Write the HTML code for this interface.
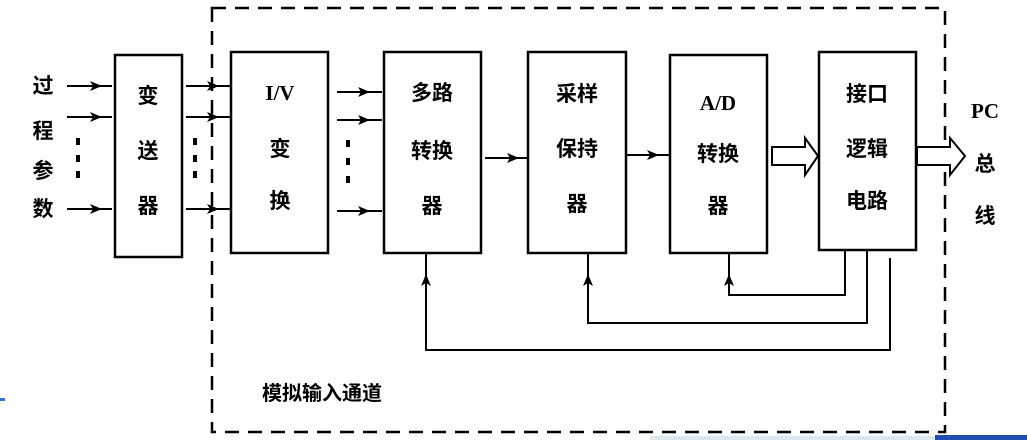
<!DOCTYPE html>
<html><head><meta charset="utf-8"><style>
html,body{margin:0;padding:0;background:#fff;}
svg{display:block;}
text{font-family:"Noto Sans CJK SC","WenQuanYi Zen Hei",sans-serif;font-size:21px;font-weight:bold;fill:#000;text-anchor:middle;}
.l{font-family:"Liberation Serif",serif;}
</style></head><body>
<svg width="1027" height="440" viewBox="0 0 1027 440" xmlns="http://www.w3.org/2000/svg">
<defs>
<g id="ah"><path d="M-8,-5 L4,0 L-8,5 L-5,0 Z" fill="#000"/></g>
</defs>
<rect x="0" y="0" width="1027" height="440" fill="#fff"/>
<!-- dashed box -->
<rect x="212" y="8" width="733" height="424" fill="none" stroke="#000" stroke-width="2.5" stroke-dasharray="14,9"/>
<!-- boxes -->
<g fill="none" stroke="#000" stroke-width="2.5">
<rect x="115" y="55" width="67" height="202"/>
<rect x="231" y="52" width="97" height="201"/>
<rect x="384" y="52" width="97" height="201"/>
<rect x="528" y="52" width="98" height="201"/>
<rect x="670" y="55" width="97" height="198"/>
<rect x="819" y="52" width="97" height="198"/>
</g>
<!-- input arrows -->
<g stroke="#000" stroke-width="2">
<line x1="67" y1="86" x2="112" y2="86"/><line x1="67" y1="117" x2="112" y2="117"/><line x1="67" y1="209" x2="112" y2="209"/>
<line x1="186" y1="86" x2="230" y2="86"/><line x1="186" y1="117" x2="230" y2="117"/><line x1="186" y1="209" x2="230" y2="209"/>
<line x1="337" y1="92" x2="382" y2="92"/><line x1="337" y1="120" x2="382" y2="120"/><line x1="337" y1="211" x2="382" y2="211"/>
<line x1="485" y1="158" x2="527" y2="158"/>
<line x1="626" y1="155" x2="669" y2="155"/>
</g>
<use href="#ah" x="98" y="86"/><use href="#ah" x="98" y="117"/><use href="#ah" x="98" y="209"/>
<use href="#ah" x="215" y="86"/><use href="#ah" x="215" y="117"/><use href="#ah" x="215" y="209"/>
<use href="#ah" x="366" y="92"/><use href="#ah" x="366" y="120"/><use href="#ah" x="366" y="211"/>
<use href="#ah" x="515" y="158"/><use href="#ah" x="655" y="155"/>
<!-- dots -->
<g fill="#000">
<rect x="76" y="138" width="4" height="7"/><rect x="76" y="155" width="4" height="7"/><rect x="76" y="171" width="4" height="7"/>
<rect x="193" y="138" width="4" height="7"/><rect x="193" y="155" width="4" height="7"/><rect x="193" y="171" width="4" height="7"/>
<rect x="346" y="140" width="4" height="7"/><rect x="346" y="158" width="4" height="7"/><rect x="346" y="176" width="4" height="7"/>
</g>
<!-- hollow arrows -->
<path d="M772,147 L805,147 L805,138 L818,156 L805,175 L805,165 L772,165 Z" fill="#fff" stroke="#000" stroke-width="2"/>
<path d="M917,147 L950,147 L950,138 L965,156 L950,175 L950,165 L917,165 Z" fill="#fff" stroke="#000" stroke-width="2"/>
<!-- feedback -->
<g fill="none" stroke="#000" stroke-width="2">
<polyline points="426,254 426,350 890,350 890,258"/>
<polyline points="588,254 588,323 867,323 867,250"/>
<polyline points="729,254 729,295 845,295 845,250"/>
</g>
<g transform="rotate(-90)">
<use href="#ah" x="-278" y="426"/><use href="#ah" x="-278" y="588"/><use href="#ah" x="-278" y="729"/>
</g>
<!-- texts -->
<text x="43" y="93">过</text><text x="43" y="138">程</text><text x="43" y="178">参</text><text x="43" y="216">数</text>
<text x="148" y="103">变</text><text x="148" y="158">送</text><text x="148" y="213">器</text>
<text x="280" y="100" class="l">I/V</text><text x="280" y="156">变</text><text x="280" y="208">换</text>
<text x="432" y="100">多路</text><text x="432" y="158">转换</text><text x="432" y="213">器</text>
<text x="577" y="101">采样</text><text x="577" y="156">保持</text><text x="577" y="211">器</text>
<text x="718" y="110" class="l">A/D</text><text x="718" y="161">转换</text><text x="718" y="213">器</text>
<text x="867" y="101">接口</text><text x="867" y="156">逻辑</text><text x="867" y="208">电路</text>
<text x="985" y="118" class="l">PC</text><text x="985" y="171">总</text><text x="985" y="223">线</text>
<text x="322" y="400" style="font-size:20px">模拟输入通道</text>
<!-- decorations -->
<rect x="0" y="398" width="5" height="3" fill="#3a6fd8"/>
<rect x="650" y="436" width="290" height="4" fill="#dbe8f2"/>
<rect x="935" y="435" width="92" height="5" fill="#1f4fb0"/>
</svg>
</body></html>
